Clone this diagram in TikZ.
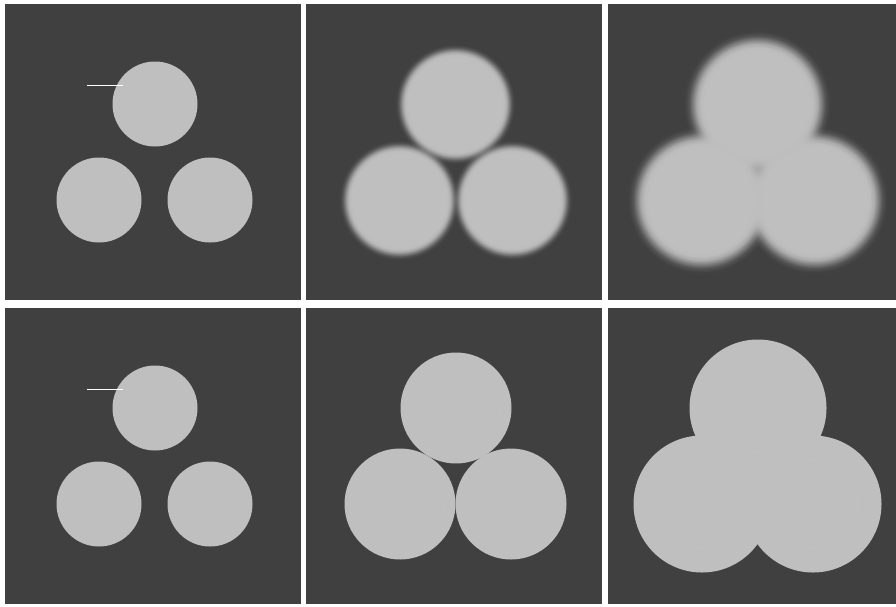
\documentclass[tikz,border=0pt]{standalone}
\usetikzlibrary{fadings}
\definecolor{panelgray}{gray}{0.25}
\definecolor{graingray}{gray}{0.75}
\pgfdeclareradialshading{soft mid shade}{\pgfpointorigin}{color(0bp)=(pgftransparent!0); color(18.90bp)=(pgftransparent!0); color(19.92bp)=(pgftransparent!2); color(20.93bp)=(pgftransparent!16); color(21.95bp)=(pgftransparent!50); color(22.97bp)=(pgftransparent!84); color(23.98bp)=(pgftransparent!98); color(25bp)=(pgftransparent!100); color(50bp)=(pgftransparent!100)}
\pgfdeclarefading{soft mid}{\pgfuseshading{soft mid shade}}
\pgfdeclareradialshading{soft wide shade}{\pgfpointorigin}{color(0bp)=(pgftransparent!0); color(17.11bp)=(pgftransparent!0); color(18.42bp)=(pgftransparent!2); color(19.74bp)=(pgftransparent!16); color(21.05bp)=(pgftransparent!50); color(22.37bp)=(pgftransparent!84); color(23.68bp)=(pgftransparent!98); color(25bp)=(pgftransparent!100); color(50bp)=(pgftransparent!100)}
\pgfdeclarefading{soft wide}{\pgfuseshading{soft wide shade}}
\tikzset{
    panel box/.style = {fill=panelgray},
    grain/.style = {fill=graingray},
    soft grain/.style = {grain, path fading=#1},
    ghost ring/.style = {draw=white, draw opacity=0.025, line width=1.5pt},
    scale bar/.style = {draw=white, line width=1.3pt},
}

\begin{document}
\begin{tikzpicture}[x=1pt, y=-1pt]
    \fill[white] (0,0) rectangle (896,606);
    \foreach \p/\x/\y/\w in {a1/5/4/296, b1/306/4/296, c1/608/4/288, a2/5/308/296, b2/306/308/296, c2/608/308/288} {
        \coordinate (\p) at (\x,\y);
        \fill[panel box] (\p) rectangle ++(\w,296);
    }
    \foreach \p/\r in {a1/42.5, a2/42.5, b2/55.5, c2/68.5}
        \foreach \c in {(150,100), (94,196), (205,196)}
            \fill[grain] ([shift={\c}]\p) circle (\r);
    \foreach \p in {b2, c2}
        \foreach \c in {(150,100), (94,196), (205,196)}
            \draw[ghost ring] ([shift={\c}]\p) circle (44);
    \foreach \c in {(149,100), (93,196), (206,196)} {
        \fill[soft grain=soft mid] ([shift={\c}]b1) circle (61.5);
        \fill[soft grain=soft wide] ([shift={\c}]c1) circle (76);
    }
    \coordinate (bar a1) at ([shift={(82,81.3)}]a1);
    \coordinate (bar a2) at ([shift={(82,81.3)}]a2);
    \draw[scale bar] (bar a1) -- ++(35.7,0);
    \draw[scale bar] (bar a2) -- ++(35.7,0);
\end{tikzpicture}
\end{document}
